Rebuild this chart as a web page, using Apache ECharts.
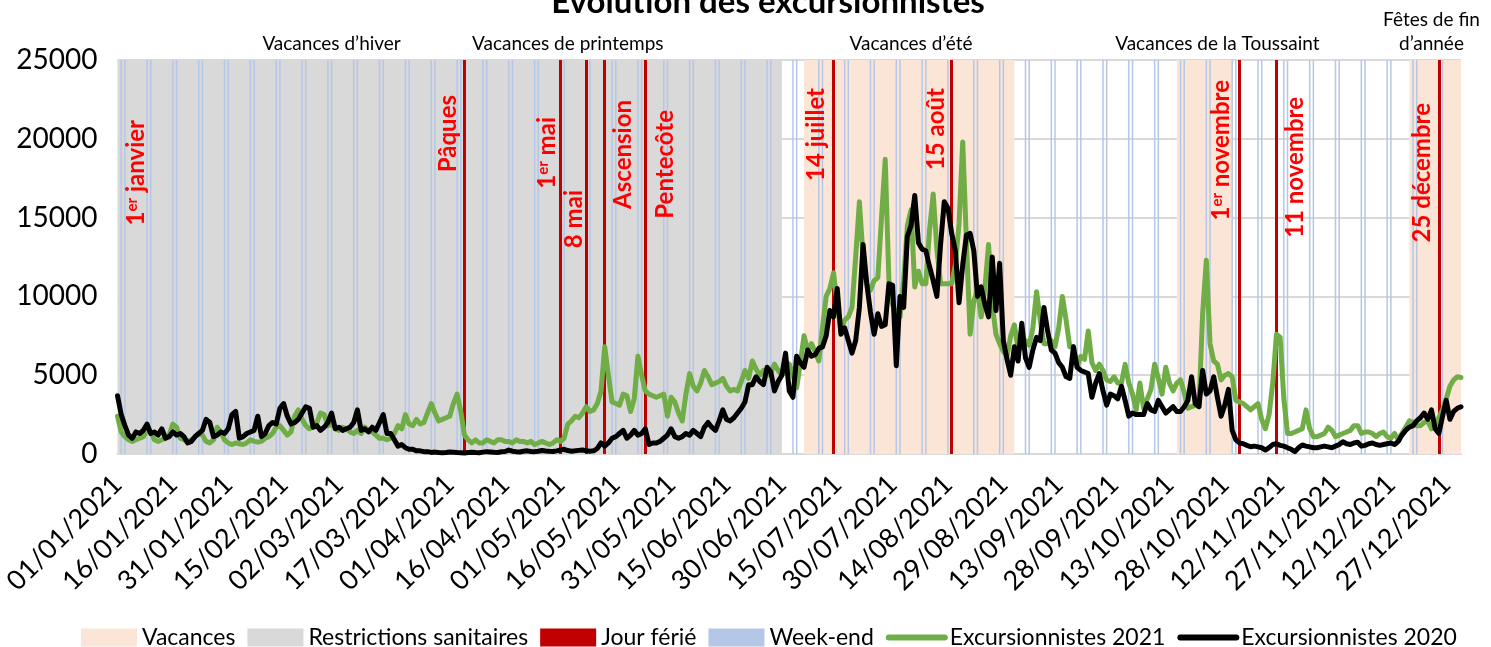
<!DOCTYPE html>
<html>
<head>
<meta charset="utf-8">
<script src="https://cdn.jsdelivr.net/npm/echarts@6/dist/echarts.min.js"></script>
<style>
  html, body { margin: 0; padding: 0; background: #fff; }
  #main { width: 1491px; height: 647px; }
</style>
</head>
<body>
<div id="main"></div>
<script>
// données journalières 2021 (une ligne par mois)
const monthLengths = [31, 28, 31, 30, 31, 30, 31, 31, 30, 31, 30, 31];

const excursionnistes2021 = [
  2400,1400,1100,900,800,900,1000,1100,1500,1400,900,800,900,1000,1200,1900,1700,1000,900,800,900,1100,1300,1200,800,700,900,1700,1400,900,700, // jan
  600,700,650,600,700,900,800,750,800,1000,1100,1300,1700,1800,1500,1200,1400,2400,2800,2200,1800,1600,1700,2000,2600,2500,1800,1900, // fev
  1600,1500,1700,1600,1400,1300,1500,1300,1700,1500,1400,1200,1000,1000,900,1000,1300,1800,1600,2500,1900,1800,2200,1900,2000,2600,3200,2600,2100,2200,2300, // mar
  2400,3200,3800,2700,1200,900,700,900,700,700,900,800,700,900,900,800,800,700,900,800,800,700,800,600,700,800,700,600,700,900, // avr
  800,1000,1900,2100,2400,2300,2600,3000,2700,2800,3200,4000,6800,5000,3300,3200,3100,3800,3700,2700,3500,6200,5000,4000,3800,3700,3600,3700,3800,2400,3600, // mai
  3300,2600,2100,3800,5100,4300,4000,4500,5300,4900,4400,4500,4600,4800,4300,4000,4100,4000,4600,5300,4800,5900,5400,5000,5300,5000,5200,5700,5300,5000, // juin
  5300,5700,5000,4200,5800,7500,6600,7000,6500,5900,8000,10000,10500,11500,9500,7800,8500,8700,9300,12500,16000,12500,10800,10400,11000,11200,15000,18700,11000,9500,8900, // juil
  8700,11000,14500,15500,10600,11600,10800,10800,14200,16500,13000,10800,10800,10800,10800,12000,14600,19800,13500,7600,9700,10400,8700,10500,13300,9500,7600,7000,6500,6200,7500, // aout
  8200,6600,6800,7200,6900,8000,10300,8500,7000,7000,7200,6800,8000,10000,8500,6800,6800,5500,6200,6000,7800,5800,5300,5700,5300,4700,4600,4900,4500,4500, // sep
  5700,4500,3800,2800,4500,2900,3500,4100,5700,4800,3800,5500,4500,4000,4500,4700,3900,2900,3000,3100,3000,8900,12300,7000,5900,5700,4700,5000,5100,4900,3400, // oct
  3300,3200,3000,2800,3000,3200,2200,1600,2500,4500,7600,7400,3500,1300,1300,1400,1500,1600,2800,1600,1100,1100,1200,1300,1700,1500,1100,1200,1300,1400, // nov
  1500,1800,1800,1300,1400,1400,1300,1100,1300,1400,1100,1000,1300,900,1300,1700,2100,2000,1800,1800,2000,2100,1600,1800,2300,2800,3500,4300,4700,4900,4850 // dec
];

const excursionnistes2020 = [
  3700,2500,1800,1200,1000,1400,1300,1500,1900,1300,1400,1200,1600,1000,1100,1400,1200,1300,1100,700,800,1100,1300,1500,2200,2000,1100,1200,1400,1300,1600, // jan
  2500,2700,1000,1100,1300,1400,1500,2400,1100,1300,1800,2000,1900,2900,3200,2400,1900,2000,2200,2600,3000,2900,1700,1800,1500,1700,2000,2600, // fev
  1600,1700,1500,1600,1700,2000,2800,1500,1600,1400,1700,1500,2000,2500,1300,1300,900,500,600,400,300,300,200,200,150,150,100,120,90,80,100, // mar
  130,110,90,80,70,100,110,90,80,120,150,130,110,100,140,160,250,180,150,130,170,200,160,150,180,220,190,170,160,200, // avr
  250,300,220,180,200,230,260,200,180,200,350,700,500,700,1000,1100,1300,1500,1000,1200,1500,1200,1300,1600,600,700,700,800,1000,1200,1600, // mai
  1100,1000,1100,1300,1200,1500,1300,1100,1700,2000,1700,1500,2100,2800,2200,2100,2300,2600,2900,3300,4400,4400,4900,4600,4400,5500,5200,4000,4600,5000, // juin
  6400,4000,3600,6200,5800,5500,6600,6200,6300,6700,6800,7500,9100,8700,10500,7600,8000,7200,6400,7200,9300,13300,10800,9000,7600,8900,8100,8200,10800,10700,5600, // juil
  10000,9300,13800,14500,16400,13400,13000,12900,11900,11000,10000,13300,16000,15600,14000,12900,9600,12000,13900,14000,12900,10000,10600,9500,8700,12500,9100,12100,7200,6000,5000, // aout
  6800,5900,8300,6100,5500,6600,7400,7200,9300,7800,6600,6400,5800,5500,4900,4800,6800,5500,5300,5200,5100,3600,4500,5100,4000,3100,3800,3700,3500,4300, // sep
  3400,2400,2600,2500,2500,2500,3200,2800,2700,3400,3000,2600,2800,3000,2700,2700,3000,3400,4900,3200,3000,5300,3800,4000,4900,3600,2400,3100,4100,1500,900, // oct
  700,650,550,460,500,450,400,250,400,600,650,550,500,400,300,150,400,570,500,450,400,400,450,500,450,400,500,600,780,650, // nov
  600,700,750,500,550,650,700,600,550,600,650,700,600,800,1200,1500,1700,1800,2100,2300,2600,2200,2800,1600,1300,2400,3400,2200,2700,2900,3000 // dec
];

// périodes (début, fin)
const vacancesPeriodes = [['06/07/2021', '01/09/2021'], ['15/10/2021', '30/10/2021'], ['17/12/2021', '31/12/2021']];
const restrictionsPeriodes = [['01/01/2021', '30/06/2021']];

// jours fériés
const joursFeries = ['01/01/2021', '05/04/2021', '01/05/2021', '08/05/2021', '13/05/2021', '24/05/2021',
  '14/07/2021', '15/08/2021', '01/11/2021', '11/11/2021', '25/12/2021'];
const joursFeriesNoms = ['1{s|er} janvier', 'Pâques', '1{s|er} mai', '8 mai', 'Ascension', 'Pentecôte',
  '14 juillet', '15 août', '1{s|er} novembre', '11 novembre', '25 décembre'];

// libellés des vacances au-dessus du graphique
const vacancesNoms = ['Vacances d’hiver', 'Vacances de printemps', 'Vacances d’été', 'Vacances de la Toussaint', 'Fêtes de fin\nd’année'];
const vacancesNomsDates = ['28/02/2021', '03/05/2021', '04/08/2021', '26/10/2021', '23/12/2021'];

// mise en page des étiquettes de jours fériés : [décalage x, haut y]
const ferieLabelLayout = [[19, 120], [-16, 95], [-13, 117], [-12, 190], [19, 100], [20, 110],
  [-17, 88], [-15, 88], [-18, 80], [19, 97], [-17, 103]];

const FONT = 'Lato';
const pad = n => (n < 10 ? '0' : '') + n;

const jours = [];
const weekEnds = [];
for (let m = 0; m < 12; m++) {
  for (let d = 1; d <= monthLengths[m]; d++) {
    jours.push(pad(d) + '/' + pad(m + 1) + '/2021');
    const wd = new Date(2021, m, d).getDay();
    weekEnds.push(wd === 0 || wd === 6 ? 25000 : '-');
  }
}
const idx = s => jours.indexOf(s);

let myChart = echarts.init(document.getElementById('main'));

const lineLegend = (name, color) => ({
  name: name,
  itemStyle: { opacity: 0 },
  lineStyle: { color: color, width: 6, cap: 'round' }
});

let option = {
  animation: false,
  title: {
    text: 'Évolution des excursionnistes',
    left: 763,
    textAlign: 'center',
    top: -19,
    textStyle: { fontFamily: FONT, fontSize: 33, fontWeight: 'bold', color: '#000' }
  },
  grid: { left: 114, right: 30, top: 60, bottom: 193 },
  legend: {
    top: 621,
    left: 76,
    itemWidth: 56,
    itemHeight: 18,
    itemGap: 12,
    textStyle: { fontFamily: FONT, fontSize: 23, color: '#000' },
    data: [
      { name: 'Vacances', icon: 'rect' },
      { name: 'Restrictions sanitaires', icon: 'rect' },
      { name: 'Jour férié', icon: 'rect' },
      { name: 'Week-end', icon: 'rect' },
      lineLegend('Excursionnistes 2021', '#70ad47'),
      lineLegend('Excursionnistes 2020', '#000')
    ]
  },
  xAxis: {
    type: 'category',
    data: jours,
    boundaryGap: false,
    axisLine: { lineStyle: { color: '#d9d9d9', width: 2 } },
    axisTick: { show: false },
    axisLabel: {
      interval: 14, rotate: 45, margin: 26, padding: [17, 0, 0, 0],
      fontFamily: FONT, fontSize: 27, color: '#000'
    },
    splitLine: { show: false }
  },
  yAxis: {
    type: 'value',
    min: 0,
    max: 25000,
    interval: 5000,
    axisLine: { show: false },
    axisTick: { show: false },
    axisLabel: { margin: 20, fontFamily: FONT, fontSize: 28, color: '#000', formatter: v => String(v) },
    splitLine: { lineStyle: { color: '#d9d9d9', width: 2 } }
  },
  series: [
    {
      name: 'Vacances',
      type: 'line',
      data: [],
      itemStyle: { color: '#fbe5d6' },
      lineStyle: { color: '#fbe5d6' },
      markArea: {
        silent: true,
        z: 1,
        itemStyle: { color: '#fbe5d6' },
        data: vacancesPeriodes.map(p => [{ xAxis: idx(p[0]) }, { xAxis: idx(p[1]) }])
      }
    },
    {
      name: 'Restrictions sanitaires',
      type: 'line',
      data: [],
      itemStyle: { color: '#d9d9d9' },
      lineStyle: { color: '#d9d9d9' },
      markArea: {
        silent: true,
        z: 1,
        itemStyle: { color: '#d9d9d9' },
        data: restrictionsPeriodes.map(p => [{ xAxis: idx(p[0]) }, { xAxis: idx(p[1]) }])
      }
    },
    {
      name: 'Week-end',
      type: 'bar',
      data: weekEnds,
      barWidth: 1.5,
      z: 2,
      itemStyle: { color: '#b4c7e7' }
    },
    {
      name: 'Jour férié',
      type: 'line',
      data: [],
      itemStyle: { color: '#c00000' },
      lineStyle: { color: '#c00000' },
      markLine: {
        silent: true,
        z: 3,
        symbol: 'none',
        label: { show: false },
        lineStyle: { color: '#c00000', width: 3, type: 'solid' },
        // le 1er janvier tombe sur l'axe : pas de trait visible
        data: joursFeries.slice(1).map(d => ({ xAxis: idx(d) }))
      }
    },
    {
      name: 'Excursionnistes 2021',
      type: 'line',
      data: excursionnistes2021,
      symbol: 'none',
      z: 4,
      itemStyle: { color: '#70ad47' },
      lineStyle: { color: '#70ad47', width: 5, cap: 'round', join: 'round' }
    },
    {
      name: 'Excursionnistes 2020',
      type: 'line',
      data: excursionnistes2020,
      symbol: 'none',
      z: 5,
      itemStyle: { color: '#000' },
      lineStyle: { color: '#000', width: 5, cap: 'round', join: 'round' }
    }
  ]
};

myChart.setOption(option);

// étiquettes positionnées à partir des axes
const topY = myChart.convertToPixel({ yAxisIndex: 0 }, 25000);
const graphics = [];
joursFeries.forEach((d, i) => {
  const x = myChart.convertToPixel({ xAxisIndex: 0 }, idx(d));
  const lay = ferieLabelLayout[i];
  graphics.push({
    type: 'text',
    x: x + lay[0],
    y: lay[1],
    rotation: Math.PI / 2,
    z: 10,
    style: {
      text: joursFeriesNoms[i],
      fill: '#ff0000',
      fontFamily: FONT,
      fontSize: 24,
      fontWeight: 'bold',
      align: 'right',
      verticalAlign: 'middle',
      textAlign: 'right',
      textVerticalAlign: 'middle',
      rich: { s: { fontSize: 15, fontWeight: 'bold', fontFamily: FONT, fill: '#ff0000', verticalAlign: 'top' } }
    }
  });
});
vacancesNoms.forEach((t, i) => {
  const x = myChart.convertToPixel({ xAxisIndex: 0 }, idx(vacancesNomsDates[i]));
  const twoLines = t.indexOf('\n') >= 0;
  graphics.push({
    type: 'text',
    x: x,
    y: twoLines ? topY - 28 : topY - 16,
    z: 10,
    style: {
      text: t,
      fill: '#000',
      fontFamily: FONT,
      fontSize: 19,
      lineHeight: 24,
      align: 'center',
      verticalAlign: 'middle',
      textAlign: 'center',
      textVerticalAlign: 'middle'
    }
  });
});
myChart.setOption({ graphic: graphics });
</script>
</body>
</html>
